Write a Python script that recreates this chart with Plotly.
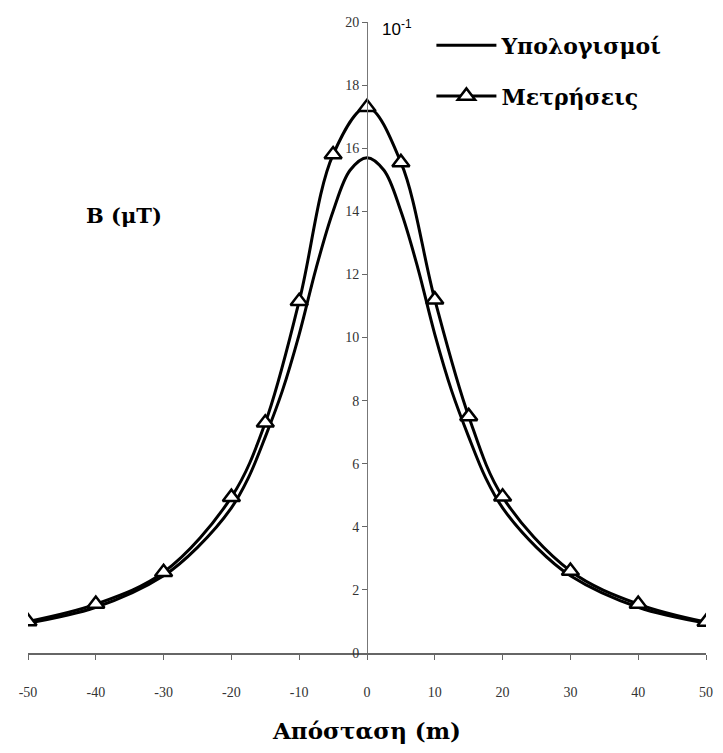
import plotly.graph_objects as go

# Computed field profile: distance (m) and flux density (units of 10^-1 μT)
calc_distance = [-50, -40, -30, -25, -20, -17.5, -15, -12.5, -10, -7.5, -5, -2.5, 0,
                 2.5, 5, 7.5, 10, 12.5, 15, 17.5, 20, 25, 30, 40, 50]
calculated = [0.95, 1.45, 2.45, 3.35, 4.6, 5.55, 6.85, 8.3, 10.1, 12.2, 14.0, 15.3, 15.7,
              15.3, 14.0, 12.2, 10.1, 8.3, 6.85, 5.55, 4.6, 3.35, 2.45, 1.45, 0.95]

# Measured points
meas_distance = [-50, -40, -30, -20, -15, -10, -5, 0, 5, 10, 15, 20, 30, 40, 50]
measured = [1.0, 1.55, 2.56, 4.94, 7.3, 11.15, 15.8, 17.3, 15.55, 11.2, 7.5, 4.95, 2.6, 1.55, 0.98]

x_ticks = [-50, -40, -30, -20, -10, 0, 10, 20, 30, 40, 50]
y_ticks = [0, 2, 4, 6, 8, 10, 12, 14, 16, 18, 20]

serif = "Liberation Serif"
wide_serif = "DejaVu Serif"

fig = go.Figure()

fig.add_trace(go.Scatter(
    x=calc_distance, y=calculated, mode="lines", name="Υπολογισμοί",
    line=dict(color="black", width=3, shape="spline", smoothing=1.0),
    legendgroup="a",
))
fig.add_trace(go.Scatter(
    x=meas_distance, y=measured, mode="lines+markers", name="Μετρήσεις",
    line=dict(color="black", width=3, shape="spline", smoothing=1.0),
    marker=dict(symbol="triangle-up", size=15, color="white",
                line=dict(color="black", width=2.5)),
    legendgroup="b",
))

fig.update_layout(
    width=723, height=753,
    margin=dict(l=28, r=10, t=22, b=100),
    plot_bgcolor="white", paper_bgcolor="white",
    font=dict(family=serif, color="#222"),
    showlegend=True,
    legend=dict(x=0.595, y=0.996, xanchor="left", yanchor="top",
                font=dict(family=wide_serif, size=22, color="black", weight="bold"),
                itemwidth=60, tracegroupgap=19, bgcolor="rgba(0,0,0,0)"),
    xaxis=dict(
        range=[-50, 50], tickvals=x_ticks, ticktext=[str(v) for v in x_ticks],
        showline=True, linecolor="#666", linewidth=1.5, mirror=False,
        ticks="outside", ticklen=5, tickcolor="#666", tickwidth=1,
        showgrid=False, zeroline=False,
        tickfont=dict(family=serif, size=14, color="#333"),
        ticklabelstandoff=20,
        title=dict(text="<b>Απόσταση (m)</b>",
                   font=dict(family=wide_serif, size=23, color="black"),
                   standoff=24),
    ),
    yaxis=dict(
        range=[0, 20], tickvals=y_ticks, ticktext=[str(v) for v in y_ticks],
        anchor="free", position=0.5,
        showline=True, linecolor="#777", linewidth=1,
        ticks="outside", ticklen=5, tickcolor="#666", tickwidth=1,
        showgrid=False, zeroline=False,
        tickfont=dict(family=serif, size=14, color="#333"),
    ),
    annotations=[
        dict(text="<b>B (μT)</b>", x=0.142, y=0.694, xref="paper", yref="paper",
             xanchor="center", yanchor="middle",
             showarrow=False, font=dict(family=wide_serif, size=21, color="black")),
        dict(text="10<sup>-1</sup>", x=0.544, y=0.99, xref="paper", yref="paper",
             xanchor="center", yanchor="middle",
             showarrow=False, font=dict(family="Liberation Sans", size=17, color="black")),
    ],
)

fig.write_html("out.html")
